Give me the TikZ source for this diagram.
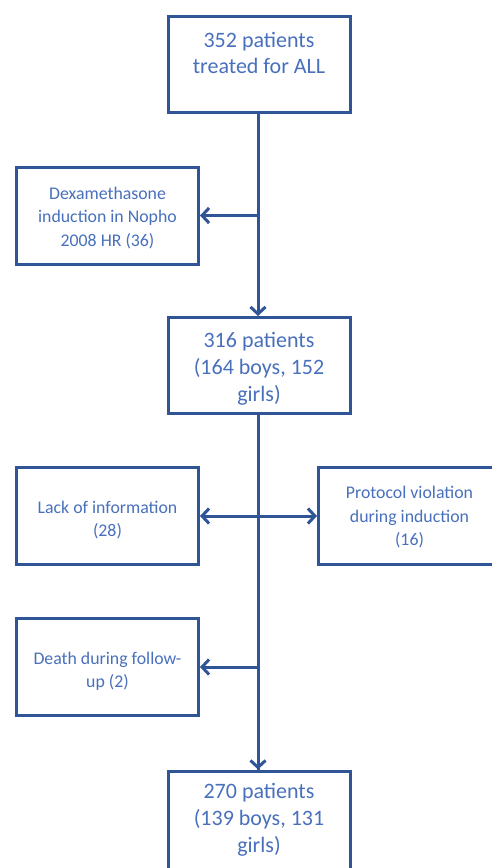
\documentclass[tikz,border=0pt]{standalone}
\usepackage{fontspec}
\setmainfont{Carlito}
\usetikzlibrary{arrows.meta}
\definecolor{boxline}{RGB}{47,85,151}
\definecolor{boxtext}{RGB}{72,112,188}
\tikzset{
  bigbox/.style={draw=boxline, line width=3pt, fill=white, minimum width=182pt, minimum height=96pt, inner sep=0pt},
  smallbox/.style={draw=boxline, line width=3pt, fill=white, minimum width=182pt, minimum height=97pt, inner sep=0pt},
  bigtext/.style={align=center, text=boxtext, font=\fontsize{22}{26.8}\selectfont, inner sep=0pt},
  smalltext/.style={align=center, text=boxtext, font=\fontsize{17.8}{23.5}\selectfont, inner sep=0pt},
  conn/.style={draw=boxline, line width=3pt, -{Straight Barb[length=7pt,width=15pt]}},
  dconn/.style={draw=boxline, line width=3pt, {Straight Barb[length=7pt,width=15pt]}-{Straight Barb[length=7pt,width=15pt]}},
  spine/.style={draw=boxline, line width=3pt}
}
\begin{document}
\begin{tikzpicture}[x=1pt,y=-1pt]
\useasboundingbox (0,0) rectangle (491,868);
% boxes
\node[bigbox] (b1) at (259,64) {};
\node[smallbox] (dexa) at (107.5,215.5) {};
\node[bigbox] (b2) at (259,365.5) {};
\node[smallbox] (lack) at (107.5,516) {};
\node[smallbox] (prot) at (409.5,516) {};
\node[smallbox] (death) at (107.5,667) {};
\node[bigbox, minimum height=112pt, anchor=north] (b3) at (259,769.5) {};
% texts
\node[bigtext] (b1t) at (259,53) {352 patients\\treated for ALL};
\node[smalltext] (dexat) at (107.5,218) {Dexamethasone\\induction in Nopho\\2008 HR (36)};
\node[bigtext] (b2t) at (259,368.5) {316 patients\\(164 boys, 152\\girls)};
\node[smalltext] (lackt) at (107.5,520) {Lack of information\\(28)};
\node[smalltext] (prott) at (409.5,517.5) {Protocol violation\\during induction\\(16)};
\node[smalltext] (deatht) at (107.5,671) {Death during follow-\\up (2)};
\node[bigtext] (b3t) at (259,820) {270 patients\\(139 boys, 131\\girls)};
% connectors
\draw[conn] (b1.south -| 258,0) -- (b2.north -| 258,0);
\draw[conn] (258,0 |- dexa.east) -- (dexa.east);
\draw[spine] (b2.south -| 258,0) -- (b3.north -| 258,0);
\draw[conn] (258,0 |- b3.north) ++(0,-1) -- (b3.north -| 258,0);
\draw[dconn] (lack.east) -- (prot.west);
\draw[conn] (258,0 |- death.east) -- (death.east);
\end{tikzpicture}
\end{document}
